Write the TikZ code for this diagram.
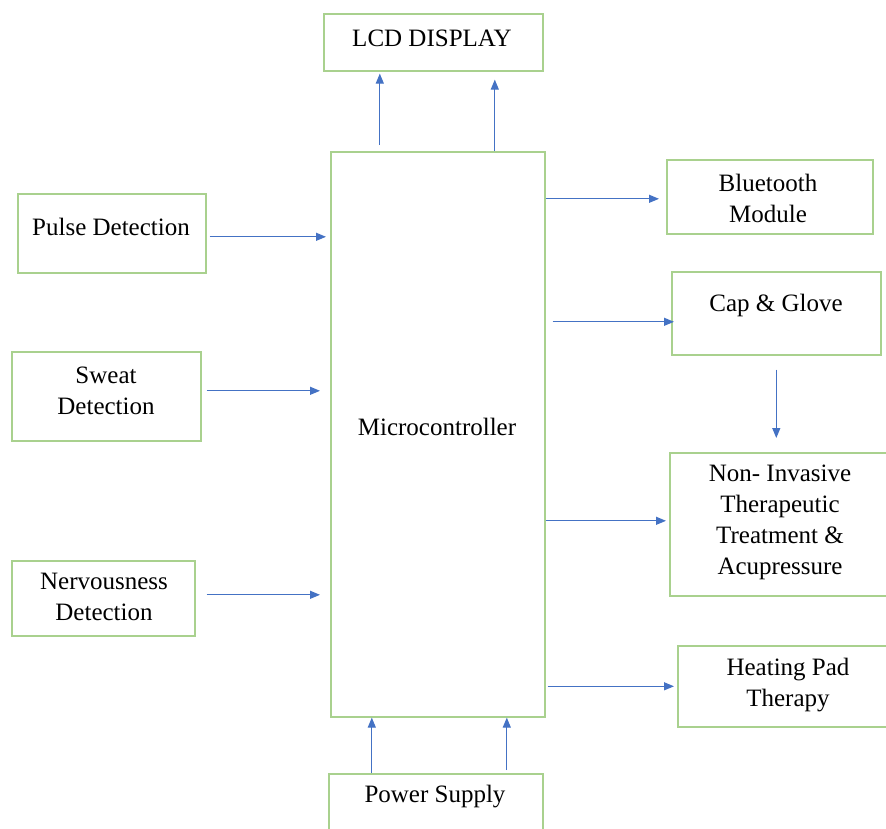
\documentclass[tikz,border=0pt]{standalone}
\usepackage{fontspec}
\setmainfont{Liberation Serif}
\usetikzlibrary{arrows.meta}
\definecolor{boxGreen}{RGB}{169,209,142}
\definecolor{arrowBlue}{RGB}{68,114,196}
\tikzstyle{box} = [rectangle, draw=boxGreen, line width=1.6pt, anchor=north west, inner sep=0pt]
\tikzstyle{boxText} = [align=center, inner sep=0pt, font=\fontsize{25}{31}\selectfont]
\tikzstyle{arrow} = [line width=1.2pt, draw=arrowBlue, -{Triangle[length=10pt,width=8pt]}]

\begin{document}
\begin{tikzpicture}[x=1pt,y=-1pt]

\clip (0,0) rectangle (886,828);

\node (lcd) [box, minimum width=219, minimum height=57] at (323,13) {};
\node (micro) [box, minimum width=214, minimum height=565] at (330,151) {};
\node (pulse) [box, minimum width=188, minimum height=79] at (17,193) {};
\node (sweat) [box, minimum width=189, minimum height=89] at (11,351) {};
\node (nervous) [box, minimum width=183, minimum height=75] at (11,560) {};
\node (bluetooth) [box, minimum width=206, minimum height=74] at (666,159) {};
\node (cap) [box, minimum width=209, minimum height=83] at (671,271) {};
\node (noninv) [box, minimum width=222, minimum height=143] at (669,452) {};
\node (heating) [box, minimum width=222, minimum height=81] at (677,645) {};
\node (power) [box, minimum width=214, minimum height=70] at (328,773) {};

\node (lcdText) [boxText] at (432,38) {LCD DISPLAY};
\node (microText) [boxText] at (437,427) {Microcontroller};
\node (pulseText) [boxText] at (111,227) {Pulse Detection};
\node (sweatText) [boxText] at (106,391) {Sweat\\Detection};
\node (nervousText) [boxText] at (104,597) {Nervousness\\Detection};
\node (bluetoothText) [boxText] at (768,198) {Bluetooth\\Module};
\node (capText) [boxText] at (776,305) {Cap \& Glove};
\node (noninvText) [boxText] at (780,522) {Non- Invasive\\Therapeutic\\Treatment \&\\Acupressure};
\node (heatingText) [boxText] at (788,685) {Heating Pad\\Therapy};
\node (powerText) [boxText] at (435,797) {Power Supply};

% arrow ends
\coordinate (lcdFootA) at ([xshift=-58pt]micro.north);
\coordinate (lcdFootB) at ([xshift=57pt]micro.north);
\coordinate (powerHeadA) at ([xshift=-66pt]micro.south);
\coordinate (powerHeadB) at ([xshift=69pt]micro.south);
\coordinate (pulseOut) at ([yshift=-3.5pt]pulse.east);
\coordinate (sweatOut) at ([yshift=5.5pt]sweat.east);
\coordinate (nervousOut) at ([yshift=3.5pt]nervous.east);
\coordinate (bluetoothIn) at ([yshift=-2pt]bluetooth.west);
\coordinate (capIn) at ([yshift=-8.5pt]cap.west);
\coordinate (noninvIn) at ([yshift=3.5pt]noninv.west);

\draw [arrow, shorten <=6pt, shorten >=2pt] (lcdFootA) -- (lcdFootA |- lcd.south);
\draw [arrow, shorten >=8pt] (lcdFootB) -- (lcdFootB |- lcd.south);
\draw [arrow] (powerHeadA |- power.north) -- (powerHeadA);
\draw [arrow, shorten <=3pt] (powerHeadB |- power.north) -- (powerHeadB);

\draw [arrow, shorten <=3pt, shorten >=4pt] (pulseOut) -- (pulseOut -| micro.west);
\draw [arrow, shorten <=5pt, shorten >=10pt] (sweatOut) -- (sweatOut -| micro.west);
\draw [arrow, shorten <=11pt, shorten >=10pt] (nervousOut) -- (nervousOut -| micro.west);

\draw [arrow, shorten >=7pt] (micro.east |- bluetoothIn) -- (bluetoothIn);
\draw [arrow, shorten <=7pt, shorten >=-3pt] (micro.east |- capIn) -- (capIn);
\draw [arrow, shorten >=3pt] (micro.east |- noninvIn) -- (noninvIn);
\draw [arrow, shorten <=2pt, shorten >=3pt] (micro.east |- heating) -- (heating);
\draw [arrow, shorten <=14pt, shorten >=14pt] (cap) -- (cap |- noninv.north);

\end{tikzpicture}
\end{document}
